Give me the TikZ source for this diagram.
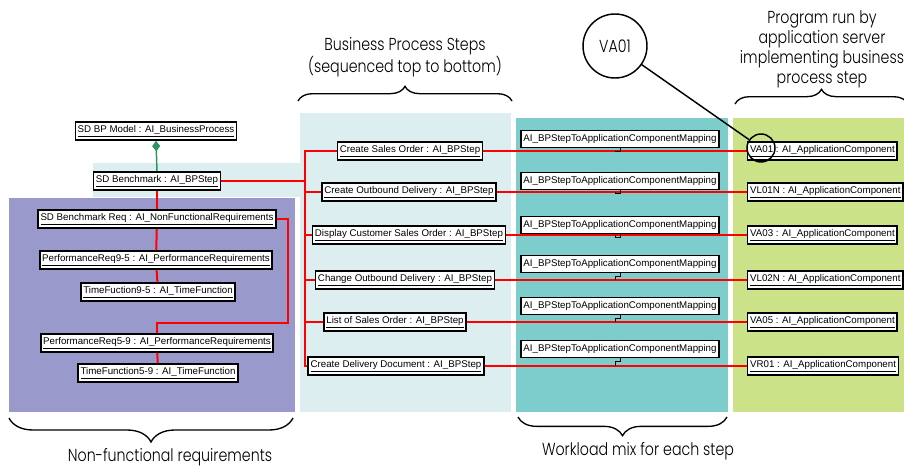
\documentclass[tikz,border=0pt]{standalone}
\usepackage{fontspec}
\setmainfont{Liberation Sans}
\newfontfamily\notefont{Poppins}[UprightFont=* Light,FakeStretch=0.82]
\usetikzlibrary{arrows.meta,positioning,calc,decorations.pathreplacing}
\definecolor{nfrpurple}{HTML}{9999CC}
\definecolor{bpcyan}{HTML}{DCEEF0}
\definecolor{mixteal}{HTML}{7DCDCD}
\definecolor{appgreen}{HTML}{CCE288}
\definecolor{aggreen}{HTML}{2A9565}

\begin{document}
\begin{tikzpicture}[x=0.75pt,y=-0.75pt,
  obj/.style={rectangle, draw, line width=1.1pt, fill=white, inner xsep=1.8pt, inner ysep=2.4pt, minimum height=13pt, font=\fontsize{7.3}{8.5}\selectfont},
  map/.style={obj, line width=0.9pt},
  link/.style={red, line width=1.5pt},
  tie/.style={line width=0.6pt},
  agg/.style={{Diamond[length=8pt,width=6pt]}-, aggreen, line width=1.1pt},
  note/.style={align=center, font=\notefont\fontsize{13}{15}\selectfont},
  curly/.style={decorate, decoration={brace, amplitude=#1}, line width=1pt}
]
\useasboundingbox (0,0) rectangle (904,468);

% coloured lanes
\fill[bpcyan] (300,113) rectangle (511,412);
\fill[bpcyan] (93,163) rectangle (300,197);
\fill[nfrpurple] (9,198) rectangle (295,412);
\fill[mixteal] (516,118) rectangle (728,412);
\fill[appgreen] (733,118) rectangle (904,412);

% non-functional requirements
\node[obj] (bpm)  at (156,131) {\underline{SD BP Model : AI\_BusinessProcess}};
\node[obj] (sb)   at (157,181) {\underline{SD Benchmark : AI\_BPStep}};
\node[obj] (nfr)  at (157,219) {\underline{SD Benchmark Req : AI\_NonFunctionalRequirements}};
\node[obj] (pr95) at (156,260) {\underline{PerformanceReq9-5 : AI\_PerformanceRequirements}};
\node[obj] (tf95) at (158,292) {\underline{TimeFuction9-5 : AI\_TimeFunction}};
\node[obj] (pr59) at (157,343) {\underline{PerformanceReq5-9 : AI\_PerformanceRequirements}};
\node[obj] (tf59) at (158,373) {\underline{TimeFunction5-9 : AI\_TimeFunction}};
\coordinate (nfrjog) at (288,323);

% business process steps
\node[obj] (s1) at (410,151) {\underline{Create Sales Order : AI\_BPStep}};
\node[obj] (s2) at (409,192) {\underline{Create Outbound Delivery : AI\_BPStep}};
\node[obj] (s3) at (409,235) {\underline{Display Customer Sales Order : AI\_BPStep}};
\node[obj] (s4) at (405,280) {\underline{Change Outbound Delivery : AI\_BPStep}};
\node[obj] (s5) at (395,322) {\underline{List of Sales Order : AI\_BPStep}};
\node[obj] (s6) at (396,366) {\underline{Create Delivery Document : AI\_BPStep}};
\coordinate (bus) at (305,151);

% application components
\node[obj, anchor=west] (a1) at (747,151) {\underline{VA01 : AI\_ApplicationComponent}};
\node[obj, anchor=west] (a2) at (747,192) {\underline{VL01N : AI\_ApplicationComponent}};
\node[obj, anchor=west] (a3) at (747,235) {\underline{VA03 : AI\_ApplicationComponent}};
\node[obj, anchor=west] (a4) at (747,280) {\underline{VL02N : AI\_ApplicationComponent}};
\node[obj, anchor=west] (a5) at (747,322) {\underline{VA05 : AI\_ApplicationComponent}};
\node[obj, anchor=west] (a6) at (747,366) {\underline{VR01 : AI\_ApplicationComponent}};

% workload mix
\node[map] (m1) at (620,139) {AI\_BPStepToApplicationComponentMapping};
\node[map] (m2) at (620,181) {AI\_BPStepToApplicationComponentMapping};
\node[map] (m3) at (620,225) {AI\_BPStepToApplicationComponentMapping};
\node[map] (m4) at (620,264) {AI\_BPStepToApplicationComponentMapping};
\node[map] (m5) at (620,306) {AI\_BPStepToApplicationComponentMapping};
\node[map] (m6) at (620,349) {AI\_BPStepToApplicationComponentMapping};

\draw[agg] (bpm.south) -- (sb.north);
\draw[link] (sb) -- (nfr);
\draw[link] (nfr) -- (pr95);
\draw[link] (pr95) -- (tf95);
\draw[link] (nfr.east) -| (nfrjog) -| (pr59.north);
\draw[link] (pr59) -- (tf59);

\draw[link] (sb.east) -- (sb.east -| bus);
\draw[link] (s1.west) -- (s1.west -| bus) -- (s6.west -| bus) -- (s6.west);
\foreach \i in {2,...,5}
  \draw[link] (s\i.west) -- (s\i.west -| bus);
\foreach \i in {1,...,6} {
  \draw[link] (s\i.east) -- (a\i.west);
  \draw[tie] (m\i.south) -- ++(0,3) -- ++(-5,0) coordinate (j\i) -- (j\i |- a\i.west);
}

% VA01 callout
\node[circle, draw, line width=1.1pt, minimum size=48pt, font=\notefont\fontsize{13}{15}\selectfont] (callout) at (615,46) {VA01};
\node[circle, draw, line width=1.1pt, minimum size=21pt] (ring) at (761,148) {};
\draw[line width=1.1pt] (callout) -- (ring);

% braces and notes
\draw[curly=11pt] (298,101) -- (512,101);
\draw[curly=11pt] (735,104) -- (908,104);
\draw[curly=18pt] (293,418) -- (9,418);
\draw[curly=14pt] (727,417) -- (518,417);
\node[note] (bpsnote) at (405,57) {Business Process Steps\\(sequenced top to bottom)};
\node[note] (appnote) at (822,49) {Program run by\\application server\\implementing business\\process step};
\node[note] (nfrnote) at (170,457) {Non-functional requirements};
\node[note] (mixnote) at (638,451) {Workload mix for each step};
\end{tikzpicture}
\end{document}
